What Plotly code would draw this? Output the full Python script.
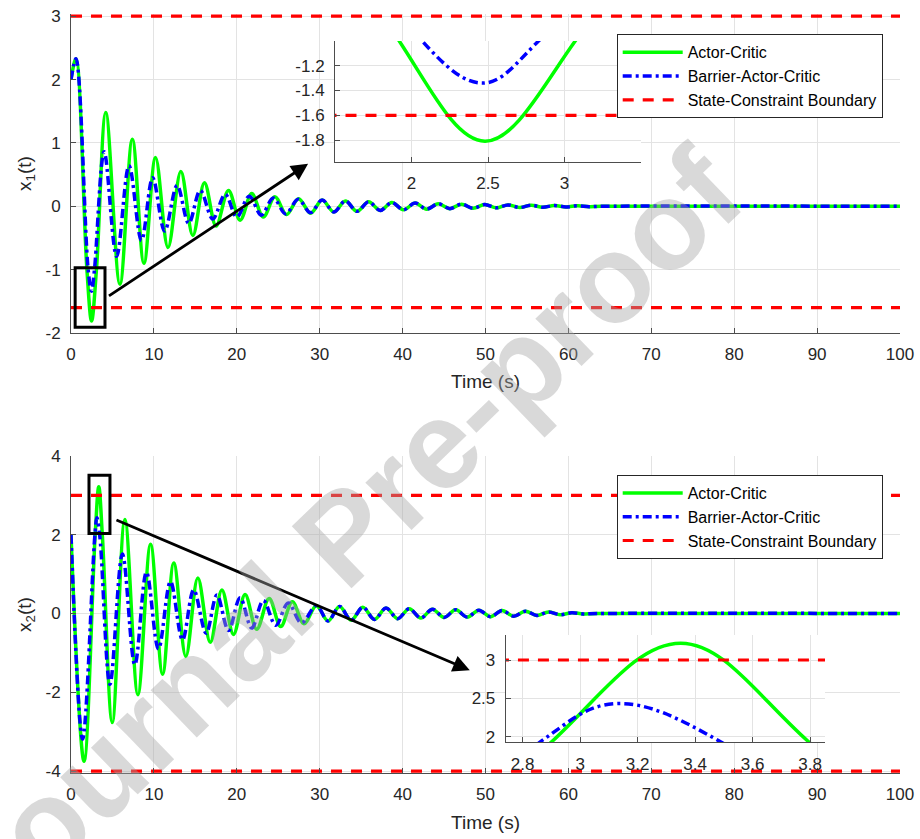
import plotly.graph_objects as go

# ---------------- data ----------------
# x1(t): extrema / key points, Actor-Critic (green)
T_X1_AC = [0, 0.6, 1.92, 2.48, 3.07, 4.2, 5.9, 7.4, 8.8, 10.2, 11.7, 13.25, 14.7, 16.1, 17.5,
           19.0, 20.4, 21.8, 23.2, 24.6, 26.0, 27.45, 28.9]
X1_AC = [2.0, 2.33, -1.0, -1.81, -1.0, 1.48, -1.23, 1.06, -0.9, 0.77, -0.65, 0.55, -0.46, 0.37, -0.31,
         0.25, -0.22, 0.2, -0.17, 0.15, -0.13, 0.12, -0.11]
# x1(t): Barrier-Actor-Critic (blue)
T_X1_BAC = [0, 0.6, 2.07, 2.47, 2.83, 4.0, 5.5, 7.0, 8.5, 9.85, 11.3, 12.8, 14.2, 15.6, 17.1,
            18.6, 20.0, 21.5, 22.95, 24.4, 25.9, 27.4, 28.9]
X1_BAC = [2.0, 2.33, -1.0, -1.34, -1.0, 0.86, -0.79, 0.64, -0.54, 0.45, -0.39, 0.33, -0.27, 0.25, -0.2,
          0.19, -0.17, 0.16, -0.14, 0.13, -0.12, 0.11, -0.1]
# shared x1 tail (both curves overlap after ~29 s)
T_X1_TAIL = [30.3, 31.7, 33.1, 34.5, 35.9, 37.3, 38.7, 40.1, 41.5, 42.9, 44.3, 45.7, 47.1, 48.5,
             49.9, 51.3, 52.7, 54.1, 55.5, 56.9, 58.3, 59.7, 61.1, 62.5, 64.0, 100.0]
X1_TAIL = [0.1, -0.09, 0.085, -0.08, 0.07, -0.065, 0.06, -0.055, 0.05, -0.045, 0.04, -0.037, 0.034, -0.031,
           0.028, -0.025, 0.022, -0.02, 0.018, -0.015, 0.012, -0.01, 0.008, -0.006, 0.0, 0.0]

# x2(t): Actor-Critic (green)
T_X2_AC = [0, 1.57, 2.9, 3.35, 3.79, 4.98, 6.5, 8.07, 9.6, 11.05, 12.4, 13.85, 15.3, 16.8, 18.2,
           19.6, 21.0, 22.4, 23.9, 25.3, 26.7, 28.1]
X2_AC = [2.0, -3.75, 1.93, 3.22, 1.95, -2.77, 2.39, -2.06, 1.76, -1.54, 1.28, -1.09, 0.9, -0.73, 0.6,
         -0.53, 0.48, -0.4, 0.38, -0.33, 0.3, -0.26]
# x2(t): Barrier-Actor-Critic (blue)
T_X2_BAC = [0, 1.4, 2.86, 3.12, 3.49, 4.7, 6.2, 7.7, 9.1, 10.55, 12.0, 13.45, 14.8, 16.3, 17.6,
            19.0, 20.4, 21.8, 23.2, 24.7, 26.2, 27.8]
X2_BAC = [2.0, -3.19, 1.93, 2.43, 1.93, -1.8, 1.51, -1.3, 1.05, -0.9, 0.81, -0.67, 0.6, -0.5, 0.47,
          -0.43, 0.4, -0.37, 0.33, -0.3, 0.27, -0.24]
T_X2_TAIL = [29.6, 31.0, 32.4, 33.8, 35.2, 36.6, 38.0, 39.4, 40.8, 42.2, 43.6, 45.0, 46.4, 47.8,
             49.2, 50.6, 52.0, 53.4, 54.8, 56.2, 57.6, 59.0, 60.4, 61.8, 63.5, 100.0]
X2_TAIL = [0.2, -0.19, 0.18, -0.17, 0.16, -0.15, 0.14, -0.13, 0.12, -0.115, 0.11, -0.1, 0.095, -0.09,
           0.085, -0.08, 0.075, -0.07, 0.06, -0.05, 0.04, -0.03, 0.02, -0.01, 0.0, 0.0]

# state-constraint boundaries
T_SPAN = [0, 100]
BOUND_X1 = [3.0, -1.6]
BOUND_X2 = [3.0, -4.0]

# zoom windows (data coords) and inset ranges
ZOOM1_T, ZOOM1_Y = [0.5, 4.1], [-1.91, -0.97]
ZOOM2_T, ZOOM2_Y = [2.17, 4.7], [2.03, 3.51]
ARROW1 = dict(tail=(4.4, -1.43), head=(28.6, 0.67))
ARROW2 = dict(tail=(5.3, 2.39), head=(48.1, -1.44))
INSET1_X, INSET1_Y = [1.5, 3.5], [-1.975, -1.0]
INSET2_X, INSET2_Y = [2.741, 3.852], [1.927, 3.326]

XTICKS = list(range(0, 101, 10))
Y1TICKS = [-2, -1, 0, 1, 2, 3]
Y2TICKS = [-4, -2, 0, 2, 4]
IN1_XT, IN1_YT = [2, 2.5, 3], [-1.8, -1.6, -1.4, -1.2]
IN2_XT, IN2_YT = [2.8, 3, 3.2, 3.4, 3.6, 3.8], [2, 2.5, 3]

# ---------------- styling ----------------
GREEN, BLUE, RED = "#00ff00", "#0000ff", "#ff0000"
FONT = "Arial, 'Liberation Sans', Helvetica, sans-serif"
TXT = "#262626"
AXC = "#4d4d4d"
GRID = "#e3e3e3"
W = 920
H = 839


def px_x(a, b):
    return [a / W, b / W]


def px_y(top, bottom):
    return [1 - bottom / H, 1 - top / H]


def fmt(v):
    return ("%g" % v)  # plain hyphen-minus like MATLAB


fig = go.Figure()


def bound_xy(levels):
    xs, ys = [], []
    for lv in levels:
        xs += [T_SPAN[0], T_SPAN[1], None]
        ys += [lv, lv, None]
    return xs, ys


def add_panel(xa, ya, t_ac, v_ac, t_bac, v_bac, bounds, legend, show):
    fig.add_trace(go.Scatter(x=t_ac, y=v_ac, mode="lines", name="Actor-Critic",
                             line=dict(color=GREEN, width=3.5, shape="spline", smoothing=1.0),
                             xaxis=xa, yaxis=ya, legend=legend, showlegend=show))
    fig.add_trace(go.Scatter(x=t_bac, y=v_bac, mode="lines", name="Barrier-Actor-Critic",
                             line=dict(color=BLUE, width=3.5, shape="spline", smoothing=1.0,
                                       dash="9px,4px,3px,4px"),
                             xaxis=xa, yaxis=ya, legend=legend, showlegend=show))
    bx, by = bound_xy(bounds)
    fig.add_trace(go.Scatter(x=bx, y=by, mode="lines", name="State-Constraint Boundary",
                             line=dict(color=RED, width=3.2, dash="11px,9px"),
                             xaxis=xa, yaxis=ya, legend=legend, showlegend=show))


add_panel("x", "y", T_X1_AC + T_X1_TAIL, X1_AC + X1_TAIL, T_X1_BAC + T_X1_TAIL, X1_BAC + X1_TAIL,
          BOUND_X1, "legend", True)
add_panel("x2", "y2", T_X2_AC + T_X2_TAIL, X2_AC + X2_TAIL, T_X2_BAC + T_X2_TAIL, X2_BAC + X2_TAIL,
          BOUND_X2, "legend2", True)
add_panel("x3", "y3", T_X1_AC + T_X1_TAIL, X1_AC + X1_TAIL, T_X1_BAC + T_X1_TAIL, X1_BAC + X1_TAIL,
          BOUND_X1, "legend", False)
add_panel("x4", "y4", T_X2_AC + T_X2_TAIL, X2_AC + X2_TAIL, T_X2_BAC + T_X2_TAIL, X2_BAC + X2_TAIL,
          BOUND_X2, "legend2", False)

tickfont = dict(family=FONT, size=17, color=TXT)
titlefont = dict(family=FONT, size=19, color=TXT)


def axis(domain, rng, tickvals, anchor, title=None, standoff=8, labelstandoff=4):
    d = dict(domain=domain, range=rng, tickmode="array", tickvals=tickvals,
             ticktext=[fmt(v) for v in tickvals], anchor=anchor,
             showline=True, linecolor=AXC, linewidth=1, ticks="inside", ticklen=5,
             tickcolor=AXC, showgrid=True, gridcolor=GRID, gridwidth=1, zeroline=False,
             tickfont=tickfont, automargin=False, mirror=False, fixedrange=True,
             ticklabelstandoff=labelstandoff, ticklabeloverflow="allow")
    if title:
        d["title"] = dict(text=title, font=titlefont, standoff=standoff)
    return d


LEG_FONT = dict(family=FONT, size=16, color="#000000")

fig.update_layout(
    width=W, height=H, template="none",
    margin=dict(l=0, r=0, t=0, b=0),
    paper_bgcolor="white", plot_bgcolor="white",
    font=dict(family=FONT, color=TXT),
    xaxis=axis(px_x(71, 900), [0, 100], XTICKS, "y", "Time (s)", standoff=11, labelstandoff=6),
    yaxis=axis(px_y(14, 333), [-2, 3.035], Y1TICKS, "x", "x<sub>1</sub>(t)",
               standoff=8, labelstandoff=6),
    xaxis2=axis(px_x(71, 900), [0, 100], XTICKS, "y2", "Time (s)", standoff=12, labelstandoff=6),
    yaxis2=axis(px_y(456, 773), [-4.05, 4], Y2TICKS, "x2", "x<sub>2</sub>(t)",
                standoff=8, labelstandoff=6),
    xaxis3=axis(px_x(335, 641), INSET1_X, IN1_XT, "y3", labelstandoff=6),
    yaxis3=axis(px_y(41, 161.7), INSET1_Y, IN1_YT, "x3", labelstandoff=6),
    xaxis4=axis(px_x(505.7, 825), INSET2_X, IN2_XT, "y4", labelstandoff=6),
    yaxis4=axis(px_y(635, 742.3), INSET2_Y, IN2_YT, "x4", labelstandoff=6),
    legend=dict(x=882.7 / W, y=1 - 34.3 / H, xanchor="right", yanchor="top",
                bgcolor="white", bordercolor="#262626", borderwidth=1,
                font=LEG_FONT, itemwidth=60, tracegroupgap=0),
    legend2=dict(x=882.7 / W, y=1 - 475 / H, xanchor="right", yanchor="top",
                 bgcolor="white", bordercolor="#262626", borderwidth=1,
                 font=LEG_FONT, itemwidth=60, tracegroupgap=0),
    showlegend=True,
)

# zoom boxes
for (tx, ty), (xa, ya) in [((ZOOM1_T, ZOOM1_Y), ("x", "y")), ((ZOOM2_T, ZOOM2_Y), ("x2", "y2"))]:
    fig.add_shape(type="rect", xref=xa, yref=ya, x0=tx[0], x1=tx[1], y0=ty[0], y1=ty[1],
                  line=dict(color="black", width=3), layer="above")

# arrows
for arr, (xa, ya) in [(ARROW1, ("x", "y")), (ARROW2, ("x2", "y2"))]:
    fig.add_annotation(x=arr["head"][0], y=arr["head"][1], ax=arr["tail"][0], ay=arr["tail"][1],
                       xref=xa, yref=ya, axref=xa, ayref=ya, text="", showarrow=True,
                       arrowhead=2, arrowsize=1.2, arrowwidth=2.8, arrowcolor="black",
                       standoff=0, startstandoff=0)

# watermark
fig.add_annotation(x=342 / W, y=1 - 536 / H, xref="paper", yref="paper", text="<b>Journal Pre-proof</b>",
                   showarrow=False, textangle=-44,
                   font=dict(family=FONT, size=125, color="rgba(165,165,165,0.42)"))

fig.write_html("out.html", config={"displayModeBar": False},
               post_script="document.body.style.margin='0px';")
